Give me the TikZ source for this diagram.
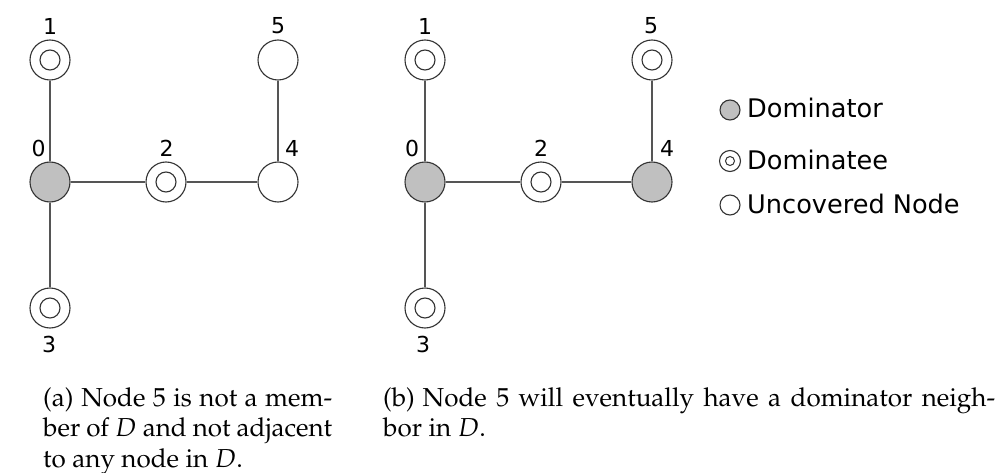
\documentclass[tikz,border=0pt]{standalone}
\usepackage[T1]{fontenc}
\usepackage{mathpazo}
\usepackage{fontspec}
\newfontfamily\dv{DejaVu Sans}
\definecolor{domfill}{HTML}{C0C0C0}
\definecolor{linec}{HTML}{333333}
\definecolor{edgec}{HTML}{555555}
\tikzset{
  nodebase/.style={circle,draw=linec,line width=1.1pt,inner sep=0pt,minimum size=40pt},
  dom/.style={nodebase,fill=domfill},
  dee/.style={nodebase,fill=white,path picture={\draw[linec,line width=1.1pt] (path picture bounding box.center) circle[radius=10pt];}},
  unc/.style={nodebase,fill=white},
  sdom/.style={dom,minimum size=20pt},
  sdee/.style={nodebase,fill=white,minimum size=21pt,path picture={\draw[linec,line width=1pt] (path picture bounding box.center) circle[radius=4.5pt];}},
  sunc/.style={unc,minimum size=20pt},
  edgeline/.style={draw=edgec,line width=1.1pt},
  lbl/.style={inner sep=0pt,font=\dv\fontsize{22}{26}\selectfont},
  leg/.style={inner sep=0pt,anchor=base west,font=\dv\fontsize{25.6}{30}\selectfont},
  captext/.style={inner sep=0pt,anchor=base west,align=justify,font=\usefont{T1}{ppl}{m}{n}\fontsize{26}{30.5}\selectfont}
}
\begin{document}
\begin{tikzpicture}[x=1pt,y=-1pt]
\useasboundingbox (0,0) rectangle (1000,473);
% ---- graph (a)
\node[dom] (a0) at (50,182) {};
\node[dee] (a1) at (50,60) {};
\node[dee] (a2) at (166,182) {};
\node[dee] (a3) at (50,308) {};
\node[unc] (a4) at (278,182) {};
\node[unc] (a5) at (278,60) {};
\draw[edgeline] (a0) -- (a1);
\draw[edgeline] (a0) -- (a2);
\draw[edgeline] (a2) -- (a4);
\draw[edgeline] (a4) -- (a5);
\draw[edgeline] (a0) -- (a3);
\node[lbl] (la0) at (38.5,148) {0};
\node[lbl] (la1) at (50,26) {1};
\node[lbl] (la2) at (166.5,148) {2};
\node[lbl] (la3) at (49,344) {3};
\node[lbl] (la4) at (292,148) {4};
\node[lbl] (la5) at (278,26) {5};
% ---- graph (b)
\node[dom] (b0) at (425,182) {};
\node[dee] (b1) at (425,60) {};
\node[dee] (b2) at (541,182) {};
\node[dee] (b3) at (425,308) {};
\node[dom] (b4) at (652,182) {};
\node[dee] (b5) at (652,60) {};
\draw[edgeline] (b0) -- (b1);
\draw[edgeline] (b0) -- (b2);
\draw[edgeline] (b2) -- (b4);
\draw[edgeline] (b4) -- (b5);
\draw[edgeline] (b0) -- (b3);
\node[lbl] (lb0) at (412,148) {0};
\node[lbl] (lb1) at (425,26) {1};
\node[lbl] (lb2) at (541,148) {2};
\node[lbl] (lb3) at (423,344) {3};
\node[lbl] (lb4) at (667,148) {4};
\node[lbl] (lb5) at (651,26) {5};
% ---- legend
\node[sdom] (kd) at (730,110) {};
\node[sdee] (ke) at (730,161) {};
\node[sunc] (ku) at (730,205) {};
\node[leg] (td) at (747,118) {Dominator};
\node[leg] (te) at (747,169) {Dominatee};
\node[leg] (tu) at (747,213) {Uncovered Node};
% ---- captions
\node[captext,text width=289pt] (capa) at (43,406) {(a)\hspace{0.3em}Node 5 is not a mem-\linebreak ber of $D$ and not adjacent\linebreak to any node in $D$.};
\node[captext,text width=612pt] (capb) at (383,406) {(b)\hspace{0.3em}Node 5 will eventually have a dominator neigh-\linebreak bor in $D$.};
\end{tikzpicture}
\end{document}
